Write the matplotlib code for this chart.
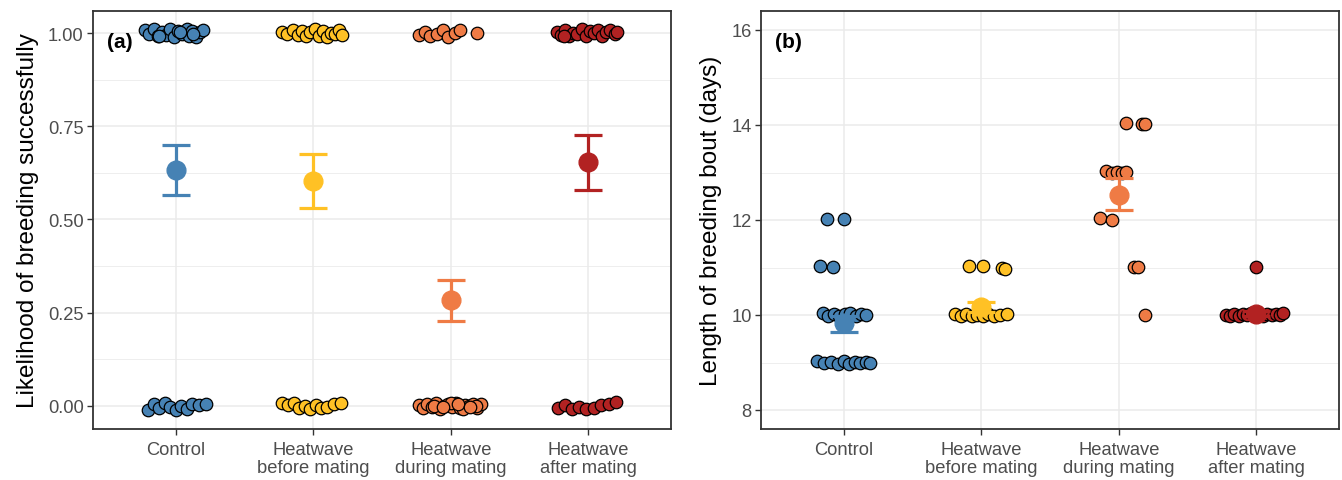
import numpy as np
import matplotlib
matplotlib.use('Agg')
import matplotlib.pyplot as plt
from matplotlib.ticker import MultipleLocator

plt.rcParams['font.family'] = ['Liberation Sans', 'DejaVu Sans']

groups = ['Control', 'Heatwave\nbefore mating', 'Heatwave\nduring mating', 'Heatwave\nafter mating']
colours = ['#4682B4', '#FFC125', '#EF7B45', '#B22222']

# panel (a): success (1) / failure (0) per bird, jitter offsets
succ_dx = [
    [-0.22, -0.19, -0.16, -0.13, -0.10, -0.07, -0.04, -0.01, 0.02, 0.05, 0.08, 0.10, 0.12, 0.15, 0.18, 0.20, -0.12, 0.03, 0.13],
    [-0.23, -0.19, -0.15, -0.11, -0.08, -0.05, -0.02, 0.01, 0.04, 0.07, 0.10, 0.13, 0.16, 0.19, 0.21],
    [-0.23, -0.19, -0.15, -0.10, -0.06, -0.02, 0.03, 0.07, 0.19],
    [-0.23, -0.20, -0.17, -0.14, -0.11, -0.08, -0.05, -0.02, 0.01, 0.04, 0.07, 0.10, 0.13, 0.16, 0.19, 0.21, -0.18],
]
succ_y = [
    [1.008, 0.997, 1.012, 0.992, 1.004, 0.995, 1.010, 0.990, 1.005, 0.998, 1.011, 0.993, 1.006, 0.989, 1.002, 1.009, 0.992, 1.003, 0.996],
    [1.004, 0.998, 1.009, 0.994, 1.006, 0.991, 1.003, 1.010, 0.993, 1.005, 0.990, 1.001, 0.996, 1.008, 0.994],
    [0.994, 1.002, 0.991, 0.997, 1.008, 0.990, 0.999, 1.007, 0.999],
    [1.003, 0.995, 1.008, 0.992, 1.001, 0.997, 1.010, 0.993, 1.005, 0.999, 1.007, 0.991, 1.002, 1.009, 0.996, 1.004, 0.993],
]
fail_dx = [
    [-0.20, -0.16, -0.12, -0.08, -0.04, 0.00, 0.04, 0.08, 0.12, 0.17, 0.22],
    [-0.23, -0.18, -0.14, -0.10, -0.06, -0.02, 0.02, 0.06, 0.10, 0.15, 0.20],
    [-0.23, -0.20, -0.17, -0.14, -0.11, -0.08, -0.05, -0.02, 0.01, 0.04, 0.07, 0.10, 0.13, 0.16, 0.19, 0.22, -0.12, 0.00, 0.09, 0.18, -0.06, 0.05, 0.14],
    [-0.22, -0.17, -0.12, -0.07, -0.02, 0.04, 0.09, 0.15, 0.20],
]
fail_y = [
    [-0.010, 0.004, -0.005, 0.008, -0.002, -0.011, 0.001, -0.008, 0.005, 0.002, 0.005],
    [0.009, 0.002, 0.007, -0.005, 0.001, -0.009, 0.003, -0.006, -0.002, 0.005, 0.008],
    [0.002, -0.005, 0.006, -0.002, 0.008, -0.008, 0.001, 0.005, -0.004, 0.009, -0.006, 0.002, -0.001, 0.006, -0.005, 0.004, 0.000, 0.007, -0.007, 0.001, -0.003, 0.005, -0.002],
    [-0.006, 0.003, -0.009, -0.003, -0.009, -0.005, 0.003, 0.005, 0.011],
]
succ_mean = [0.634, 0.602, 0.283, 0.654]
succ_lo = [0.566, 0.532, 0.227, 0.579]
succ_hi = [0.700, 0.675, 0.339, 0.727]

# panel (b): length of breeding bout in days
bout_dx = [
    [-0.12, 0.00, -0.17, -0.08, -0.15, -0.11, -0.07, -0.03, 0.01, 0.05, 0.09, 0.13, 0.16, -0.19, -0.14, -0.09, -0.04, 0.00, 0.04, 0.08, 0.12, 0.16, 0.19],
    [-0.09, 0.01, 0.15, 0.17, -0.19, -0.15, -0.11, -0.07, -0.03, 0.01, 0.05, 0.09, 0.14, 0.19],
    [0.05, 0.17, 0.19, -0.09, -0.05, -0.01, 0.02, 0.05, -0.14, -0.05, 0.11, 0.14, 0.19],
    [0.00, -0.22, -0.19, -0.16, -0.13, -0.10, -0.07, -0.04, -0.01, 0.02, 0.05, 0.08, 0.11, 0.14, 0.17, 0.19],
]
bout_y = [
    [12.03, 12.02, 11.04, 11.01, 10.04, 9.98, 10.03, 9.97, 10.02, 10.04, 9.98, 10.03, 9.99, 9.03, 8.98, 9.02, 8.96, 9.03, 8.97, 9.01, 8.98, 9.02, 8.99],
    [11.04, 11.04, 10.99, 10.97, 10.02, 9.98, 10.03, 9.97, 10.01, 9.98, 10.02, 9.97, 10.01, 10.03],
    [14.05, 14.02, 14.02, 13.03, 12.99, 13.02, 12.98, 13.01, 12.04, 11.99, 11.02, 11.01, 10.00],
    [11.02, 10.01, 9.98, 10.03, 9.97, 10.02, 9.99, 10.04, 9.98, 10.01, 9.97, 10.03, 9.99, 10.02, 10.00, 10.04],
]
bout_mean = [9.83, 10.17, 12.53, 10.03]
bout_lo = [9.65, 10.07, 12.22, 9.97]
bout_hi = [9.98, 10.27, 12.88, 10.09]

fig = plt.figure(figsize=(13.42, 4.81), dpi=100)
ax1 = fig.add_axes([93 / 1342, 51 / 481, 578 / 1342, 418 / 481])
ax2 = fig.add_axes([761 / 1342, 51 / 481, 578 / 1342, 418 / 481])


def style(ax):
    ax.set_xlim(0.4, 4.6)
    ax.set_xticks(range(1, 5))
    ax.set_xticklabels(groups, linespacing=1.1)
    ax.grid(True, which='major', color='#EBEBEB', lw=1.1, zorder=0)
    ax.grid(True, which='minor', axis='y', color='#EBEBEB', lw=0.6, zorder=0)
    ax.set_axisbelow(True)
    for s in ax.spines.values():
        s.set_color('#333333')
        s.set_linewidth(1.3)
    ax.tick_params(which='major', length=4.3, width=1.0, color='#333333',
                   labelcolor='#4D4D4D', labelsize=13.2, pad=2.5)
    ax.tick_params(axis='x', pad=4)
    ax.tick_params(which='minor', length=0)


for i in range(4):
    x = np.array(succ_dx[i]) + i + 1
    ax1.plot(x, succ_y[i], 'o', ms=9, mfc=colours[i], mec='black', mew=0.9, zorder=3)
    x = np.array(fail_dx[i]) + i + 1
    ax1.plot(x, fail_y[i], 'o', ms=9, mfc=colours[i], mec='black', mew=0.9, zorder=3)
    ax1.errorbar(i + 1, succ_mean[i],
                 yerr=[[succ_mean[i] - succ_lo[i]], [succ_hi[i] - succ_mean[i]]],
                 fmt='o', color=colours[i], ms=13.5, elinewidth=2.3, capsize=10,
                 capthick=2.3, zorder=4)

    x = np.array(bout_dx[i]) + i + 1
    ax2.plot(x, bout_y[i], 'o', ms=9, mfc=colours[i], mec='black', mew=0.9, zorder=3)
    ax2.errorbar(i + 1, bout_mean[i],
                 yerr=[[bout_mean[i] - bout_lo[i]], [bout_hi[i] - bout_mean[i]]],
                 fmt='o', color=colours[i], ms=13.5, elinewidth=2.3, capsize=10,
                 capthick=2.3, zorder=4)

style(ax1)
ax1.set_ylim(-0.0617, 1.059)
ax1.set_yticks([0, 0.25, 0.5, 0.75, 1.0])
ax1.set_yticklabels(['0.00', '0.25', '0.50', '0.75', '1.00'])
ax1.yaxis.set_minor_locator(MultipleLocator(0.125))
ax1.set_ylabel('Likelihood of breeding successfully', fontsize=17.5, labelpad=6.5)
ax1.text(0.024, 0.928, '(a)', transform=ax1.transAxes, fontsize=15,
         fontweight='bold', va='center', ha='left')

style(ax2)
ax2.set_ylim(7.6, 16.4)
ax2.set_yticks([8, 10, 12, 14, 16])
ax2.yaxis.set_minor_locator(MultipleLocator(1))
ax2.set_ylabel('Length of breeding bout (days)', fontsize=17.5, labelpad=6.5)
ax2.text(0.024, 0.928, '(b)', transform=ax2.transAxes, fontsize=15,
         fontweight='bold', va='center', ha='left')

fig.savefig('out.png', dpi=100)
